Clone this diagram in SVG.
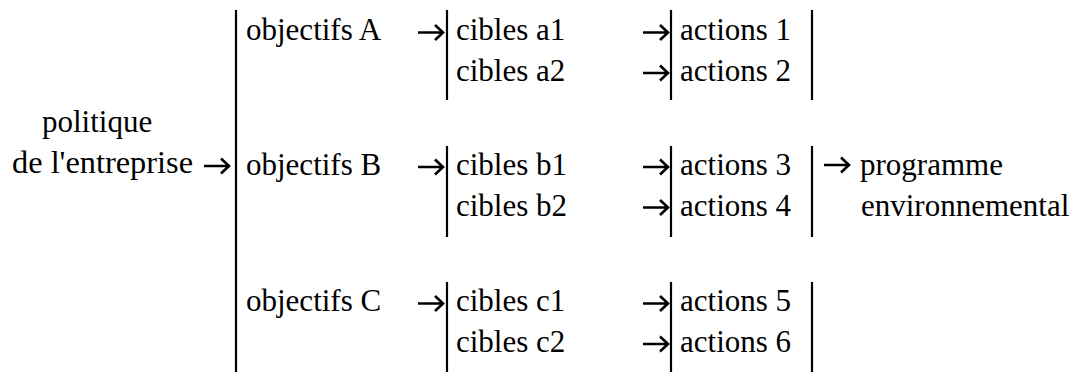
<svg xmlns="http://www.w3.org/2000/svg" xmlns:xlink="http://www.w3.org/1999/xlink" width="1077" height="372" viewBox="0 0 1077 372">
<style>
text{font-family:"Liberation Serif","Times New Roman",serif;font-size:31px;fill:#000}
.bar{stroke:#000;stroke-width:2.2;fill:none}
.arr{stroke:#000;stroke-width:2.6;fill:none;stroke-linecap:butt;stroke-linejoin:miter}
</style>
<defs>
<path id="ar" class="arr" d="M0 0 H25 M17 -7.5 L25 0 L17 7.5"/>
</defs>
<rect width="1077" height="372" fill="#fff"/>
<g id="connectors">
<line class="bar" x1="236" y1="10" x2="236" y2="372"/>
<line class="bar" x1="447" y1="10" x2="447" y2="100"/>
<line class="bar" x1="447" y1="146" x2="447" y2="237"/>
<line class="bar" x1="447" y1="282" x2="447" y2="372"/>
<line class="bar" x1="671" y1="10" x2="671" y2="100"/>
<line class="bar" x1="671" y1="146" x2="671" y2="237"/>
<line class="bar" x1="671" y1="282" x2="671" y2="372"/>
<line class="bar" x1="812" y1="10" x2="812" y2="100"/>
<line class="bar" x1="812" y1="146" x2="812" y2="237"/>
<line class="bar" x1="812" y1="282" x2="812" y2="372"/>
<use xlink:href="#ar" x="204" y="166"/>
<use xlink:href="#ar" x="418" y="32.5"/>
<use xlink:href="#ar" x="418" y="167"/>
<use xlink:href="#ar" x="418" y="303.5"/>
<use xlink:href="#ar" x="643" y="32.5"/>
<use xlink:href="#ar" x="643" y="73"/>
<use xlink:href="#ar" x="643" y="167"/>
<use xlink:href="#ar" x="643" y="207.5"/>
<use xlink:href="#ar" x="643" y="303.5"/>
<use xlink:href="#ar" x="643" y="344"/>
<use xlink:href="#ar" x="824" y="165"/>
</g>
<g id="node-politique">
<text x="42" y="132">politique</text>
<text x="12" y="173" textLength="181" lengthAdjust="spacingAndGlyphs">de l'entreprise</text>
</g>
<g id="node-objA"><text x="246" y="40">objectifs A</text></g>
<g id="node-objB"><text x="246" y="175">objectifs B</text></g>
<g id="node-objC"><text x="246" y="311">objectifs C</text></g>
<g id="node-ciblesA">
<text x="456" y="40">cibles a1</text>
<text x="456" y="80.5">cibles a2</text>
</g>
<g id="node-ciblesB">
<text x="456" y="175">cibles b1</text>
<text x="456" y="215.5">cibles b2</text>
</g>
<g id="node-ciblesC">
<text x="456" y="311">cibles c1</text>
<text x="456" y="351.5">cibles c2</text>
</g>
<g id="node-actionsA">
<text x="680" y="40">actions 1</text>
<text x="680" y="80.5">actions 2</text>
</g>
<g id="node-actionsB">
<text x="680" y="175">actions 3</text>
<text x="680" y="215.5">actions 4</text>
</g>
<g id="node-actionsC">
<text x="680" y="311">actions 5</text>
<text x="680" y="351.5">actions 6</text>
</g>
<g id="node-programme">
<text x="860" y="175">programme</text>
<text x="861" y="215.5">environnemental</text>
</g>
</svg>
